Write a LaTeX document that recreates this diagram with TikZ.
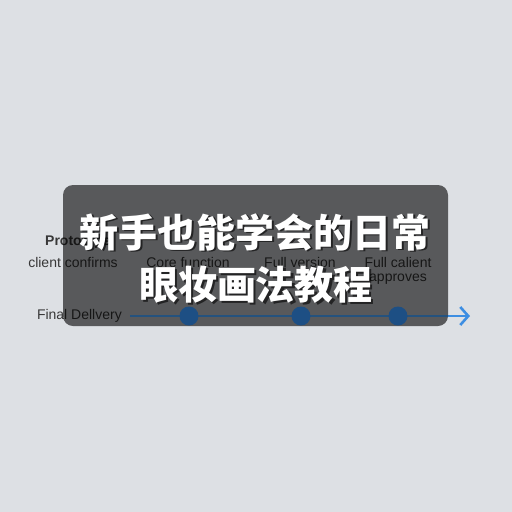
\documentclass[tikz,border=0pt]{standalone}
\usepackage{fontspec}
\usetikzlibrary{arrows.meta}
\setmainfont{Liberation Sans}
\newfontfamily\cjk{Noto Sans CJK SC}
\definecolor{bgc}{HTML}{DDE0E4}
\definecolor{txt}{HTML}{383838}
\definecolor{navy}{HTML}{1D4F84}
\definecolor{navyline}{HTML}{24527E}
\definecolor{lblue}{HTML}{3D8EE2}
\tikzset{
  lbl/.style={font=\fontsize{14}{16}\selectfont, text=txt, inner sep=0pt},
  head/.style={font=\fontsize{14}{16}\selectfont\bfseries, text=txt, inner sep=0pt},
  dot/.style={circle, fill=navy, minimum size=19pt, inner sep=0pt},
  overlay box/.style={fill=black, fill opacity=0.6, rounded corners=10pt},
  title/.style={font=\fontsize{39}{44}\selectfont\cjk\bfseries, text=white, inner sep=0pt},
  titleshadow/.style={font=\fontsize{39}{44}\selectfont\cjk\bfseries, text=black, text opacity=0.6, inner sep=0pt},
}
\begin{document}
\begin{tikzpicture}[x=1pt,y=-1pt]
\fill[bgc] (0,0) rectangle (512,512);
\useasboundingbox (0,0) rectangle (512,512);
% labels under the overlay
\node[lbl, anchor=east] (fd) at (122,316) {Final Dellvery};
\node[head, anchor=west] (h1) at (45,242) {Prototype};
\node[lbl] (l1) at (73,262) {client confirms};
\node[lbl] (l2) at (188,262) {Core function};
\node[lbl] (l3) at (300,262) {Full version};
\node[lbl] (l4) at (398,262) {Full calient};
\node[lbl] (l4b) at (398,279) {approves};
% timeline
\coordinate (ls) at (130,316);
\coordinate (lm) at (448,316);
\coordinate (le) at (470,316);
\draw[lblue, line width=2.6pt, -{Straight Barb[length=8pt,width=18pt]}] (lm) -- (le);
% overlay
\fill[overlay box] (63,185) rectangle (448,326);
\draw[navyline, line width=2.6pt] (ls) -- (lm);
\node[dot] (d1) at (189,316) {};
\node[dot] (d2) at (301,316) {};
\node[dot] (d3) at (398,316) {};
% title
\node[titleshadow] (t1s) at (257,234) {新手也能学会的日常};
\node[titleshadow] (t2s) at (258,287) {眼妆画法教程};
\node[title] (t1) at (255,232) {新手也能学会的日常};
\node[title] (t2) at (256,285) {眼妆画法教程};
\end{tikzpicture}
\end{document}
